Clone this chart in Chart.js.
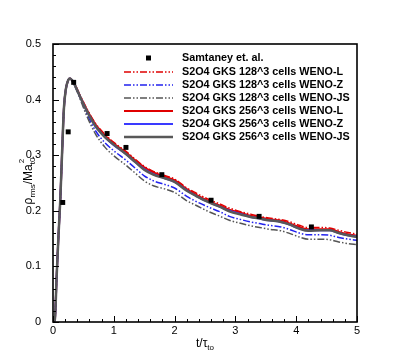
<!DOCTYPE html>
<html>
<head>
  <script src="https://cdn.jsdelivr.net/npm/chart.js@4.4.0/dist/chart.umd.min.js"></script>
  <title>rho rms decay</title>
  <style>
    body { margin: 0; background: #fff; }
    #wrap { width: 407px; height: 362px; }
  </style>
</head>
<body>
  <div id="wrap"><canvas id="rmsChart"></canvas></div>
  <script>
    // time axis shared by the simulation curves (t / tau_to)
    const tValues = [0, 0.03, 0.06, 0.09, 0.12, 0.15, 0.18, 0.21, 0.25, 0.28, 0.32, 0.36,
      0.45, 0.55, 0.7, 0.85, 1.0, 1.2, 1.35, 1.5, 1.65, 1.85, 2.0, 2.2, 2.35, 2.55, 2.75,
      2.9, 3.1, 3.25, 3.4, 3.55, 3.75, 3.9, 4.05, 4.2, 4.4, 4.55, 4.7, 4.85, 5.0];

    // reference data (Samtaney et al.)
    const refT = [0.16, 0.25, 0.34, 0.89, 1.2, 1.79, 2.6, 3.39, 4.25];
    const refRho = [0.215, 0.342, 0.431, 0.339, 0.314, 0.265, 0.219, 0.19, 0.171];

    // 128^3 runs
    const weL128 = [0, 0.004, 0.082, 0.155, 0.220, 0.306, 0.385, 0.418, 0.435, 0.438, 0.434, 0.427,
      0.407, 0.385, 0.357, 0.338, 0.323, 0.307, 0.293, 0.280, 0.271, 0.263, 0.257, 0.241, 0.232,
      0.221, 0.212, 0.205, 0.198, 0.194, 0.190, 0.187, 0.184, 0.180, 0.174, 0.170, 0.170, 0.169,
      0.165, 0.161, 0.158];
    const weZ128 = [0, 0.004, 0.082, 0.155, 0.220, 0.306, 0.385, 0.418, 0.435, 0.438, 0.434, 0.425,
      0.402, 0.376, 0.344, 0.323, 0.308, 0.291, 0.277, 0.263, 0.254, 0.247, 0.241, 0.226, 0.217,
      0.207, 0.198, 0.190, 0.184, 0.180, 0.177, 0.174, 0.171, 0.166, 0.160, 0.157, 0.157, 0.156,
      0.152, 0.149, 0.147];
    const weJS128 = [0, 0.004, 0.082, 0.155, 0.220, 0.306, 0.385, 0.418, 0.435, 0.438, 0.433, 0.424,
      0.400, 0.372, 0.338, 0.315, 0.299, 0.282, 0.268, 0.254, 0.245, 0.239, 0.233, 0.218, 0.210,
      0.199, 0.190, 0.183, 0.177, 0.173, 0.170, 0.167, 0.164, 0.159, 0.153, 0.149, 0.149, 0.148,
      0.144, 0.141, 0.139];

    // 256^3 runs
    const weL256 = [0, 0.004, 0.082, 0.155, 0.220, 0.306, 0.385, 0.418, 0.435, 0.438, 0.434, 0.427,
      0.405, 0.383, 0.355, 0.336, 0.321, 0.305, 0.291, 0.278, 0.269, 0.261, 0.255, 0.239, 0.229,
      0.218, 0.209, 0.202, 0.196, 0.191, 0.188, 0.185, 0.182, 0.177, 0.171, 0.167, 0.167, 0.167,
      0.162, 0.158, 0.155];
    const weZ256 = [0, 0.004, 0.082, 0.155, 0.220, 0.306, 0.385, 0.418, 0.435, 0.438, 0.434, 0.426,
      0.404, 0.381, 0.352, 0.333, 0.318, 0.302, 0.288, 0.275, 0.266, 0.258, 0.252, 0.237, 0.227,
      0.216, 0.207, 0.200, 0.194, 0.189, 0.186, 0.183, 0.180, 0.175, 0.168, 0.165, 0.165, 0.165,
      0.160, 0.156, 0.154];
    const weJS256 = [0, 0.004, 0.082, 0.155, 0.220, 0.306, 0.385, 0.418, 0.435, 0.438, 0.434, 0.426,
      0.404, 0.381, 0.352, 0.333, 0.319, 0.302, 0.288, 0.274, 0.265, 0.258, 0.252, 0.236, 0.227,
      0.216, 0.207, 0.199, 0.193, 0.189, 0.186, 0.183, 0.180, 0.175, 0.168, 0.164, 0.165, 0.165,
      0.160, 0.156, 0.153];

    const seriesNames = ["Samtaney et. al.",
      "S2O4 GKS 128^3 cells WENO-L", "S2O4 GKS 128^3 cells WENO-Z", "S2O4 GKS 128^3 cells WENO-JS",
      "S2O4 GKS 256^3 cells WENO-L", "S2O4 GKS 256^3 cells WENO-Z", "S2O4 GKS 256^3 cells WENO-JS"];

    const xTicks = [0, 1, 2, 3, 4, 5];
    const yTicks = [0, 0.1, 0.2, 0.3, 0.4, 0.5];

    function pts(xs, ys) {
      return xs.map((x, i) => ({ x: x, y: ys[i] }));
    }

    const dashDot = [7, 2, 1.5, 2, 1.5, 2];

    function curve(label, data, color, width, dash, order) {
      return {
        label: label,
        data: pts(tValues, data),
        borderColor: color,
        borderWidth: width,
        borderDash: dash,
        pointRadius: 0,
        fill: false,
        cubicInterpolationMode: "monotone",
        order: order
      };
    }

    const datasets = [
      {
        label: seriesNames[0],
        data: pts(refT, refRho),
        showLine: false,
        pointStyle: "rect",
        pointRadius: 3.5,
        backgroundColor: "#000",
        borderColor: "#000",
        borderWidth: 0,
        order: 0
      },
      curve(seriesNames[1], weL128, "#e00000", 1.5, dashDot, 6),
      curve(seriesNames[2], weZ128, "#2222ee", 1.5, dashDot, 5),
      curve(seriesNames[3], weJS128, "#555555", 1.5, dashDot, 4),
      curve(seriesNames[4], weL256, "#e00000", 2, [], 3),
      curve(seriesNames[5], weZ256, "#3a3aff", 2, [], 2),
      curve(seriesNames[6], weJS256, "#585858", 2.5, [], 1)
    ];

    // frame, inward ticks, titles and the in-plot legend
    const decorations = {
      id: "decorations",
      afterDraw(chart) {
        const ctx = chart.ctx;
        const area = chart.chartArea;
        const xs = chart.scales.x, ys = chart.scales.y;
        ctx.save();
        ctx.strokeStyle = "#000";
        ctx.lineWidth = 1;
        ctx.beginPath();
        for (let i = 0; i <= 25; i++) {
          const px = Math.round(xs.getPixelForValue(i * 0.2)) + 0.5;
          const len = i % 5 === 0 ? 6 : 3;
          ctx.moveTo(px, area.bottom);
          ctx.lineTo(px, area.bottom - len);
        }
        for (let i = 0; i <= 25; i++) {
          const py = Math.round(ys.getPixelForValue(i * 0.02)) + 0.5;
          const len = i % 5 === 0 ? 6 : 3;
          ctx.moveTo(area.left, py);
          ctx.lineTo(area.left + len, py);
        }
        ctx.stroke();
        ctx.lineWidth = 1.6;
        ctx.strokeRect(area.left, area.top, area.right - area.left, area.bottom - area.top);

        // legend
        const rows = [58, 72, 85, 98, 111, 124, 137];
        ctx.font = "bold 10.8px 'Liberation Sans', Arial, sans-serif";
        ctx.textBaseline = "middle";
        ctx.fillStyle = "#000";
        chart.data.datasets.forEach((ds, i) => {
          const y = rows[i];
          if (i === 0) {
            ctx.fillRect(146, y - 2.5, 5, 5);
          } else {
            ctx.save();
            ctx.strokeStyle = ds.borderColor;
            ctx.lineWidth = ds.borderWidth;
            ctx.setLineDash(ds.borderDash);
            ctx.beginPath();
            ctx.moveTo(124, y);
            ctx.lineTo(173, y);
            ctx.stroke();
            ctx.restore();
          }
          ctx.fillText(ds.label, 182, y);
        });

        // axis titles
        ctx.textBaseline = "alphabetic";
        const big = "12px 'Liberation Sans', Arial, sans-serif";
        const small = "8px 'Liberation Sans', Arial, sans-serif";
        // x title: t/tau_to
        ctx.font = big;
        const w1 = ctx.measureText("t/\u03c4").width;
        ctx.font = small;
        const w2 = ctx.measureText("to").width;
        let x0 = (area.left + area.right) / 2 - (w1 + w2) / 2;
        ctx.font = big;
        ctx.fillText("t/\u03c4", x0, 347);
        ctx.font = small;
        ctx.fillText("to", x0 + w1, 350);

        // y title: rho_rms / Ma_t0^2
        ctx.translate(32, 181);
        ctx.rotate(-Math.PI / 2);
        ctx.font = big;
        const a = ctx.measureText("\u03c1").width;
        const c = ctx.measureText("/Ma").width;
        ctx.font = small;
        const b = ctx.measureText("rms").width;
        const d = ctx.measureText("t0").width;
        let p = -(a + b + c + d) / 2;
        ctx.font = big;
        ctx.fillText("\u03c1", p, 0);
        p += a;
        ctx.font = small;
        ctx.fillText("rms", p, 3);
        p += b;
        ctx.font = big;
        ctx.fillText("/Ma", p, 0);
        p += c;
        ctx.font = small;
        ctx.fillText("t0", p, 3);
        ctx.fillText("2", p + 1, -8);
        ctx.restore();
      }
    };

    const ctx = document.getElementById("rmsChart").getContext("2d");
    const chart = new Chart(ctx, {
      type: "line",
      data: { datasets: datasets },
      options: {
        responsive: true,
        maintainAspectRatio: false,
        animation: false,
        devicePixelRatio: 1,
        layout: { padding: { left: 0, top: 44, right: 50, bottom: 0 } },
        plugins: { legend: { display: false }, tooltip: { enabled: false } },
        scales: {
          x: {
            type: "linear",
            min: 0,
            max: 5,
            grid: { display: false },
            border: { display: false },
            afterFit: (s) => { s.height = 40; },
            afterBuildTicks: (s) => { s.ticks = xTicks.map(v => ({ value: v })); },
            ticks: {
              color: "#000",
              padding: -6,
              maxRotation: 0,
              font: { family: "'Liberation Sans', Arial, sans-serif", size: 11 }
            }
          },
          y: {
            type: "linear",
            min: 0,
            max: 0.5,
            grid: { display: false },
            border: { display: false },
            afterFit: (s) => { s.width = 53; },
            afterBuildTicks: (s) => { s.ticks = yTicks.map(v => ({ value: v })); },
            ticks: {
              color: "#000",
              padding: 4,
              font: { family: "'Liberation Sans', Arial, sans-serif", size: 11 },
              callback: (v) => String(v)
            }
          }
        }
      },
      plugins: [decorations]
    });
  </script>
</body>
</html>
